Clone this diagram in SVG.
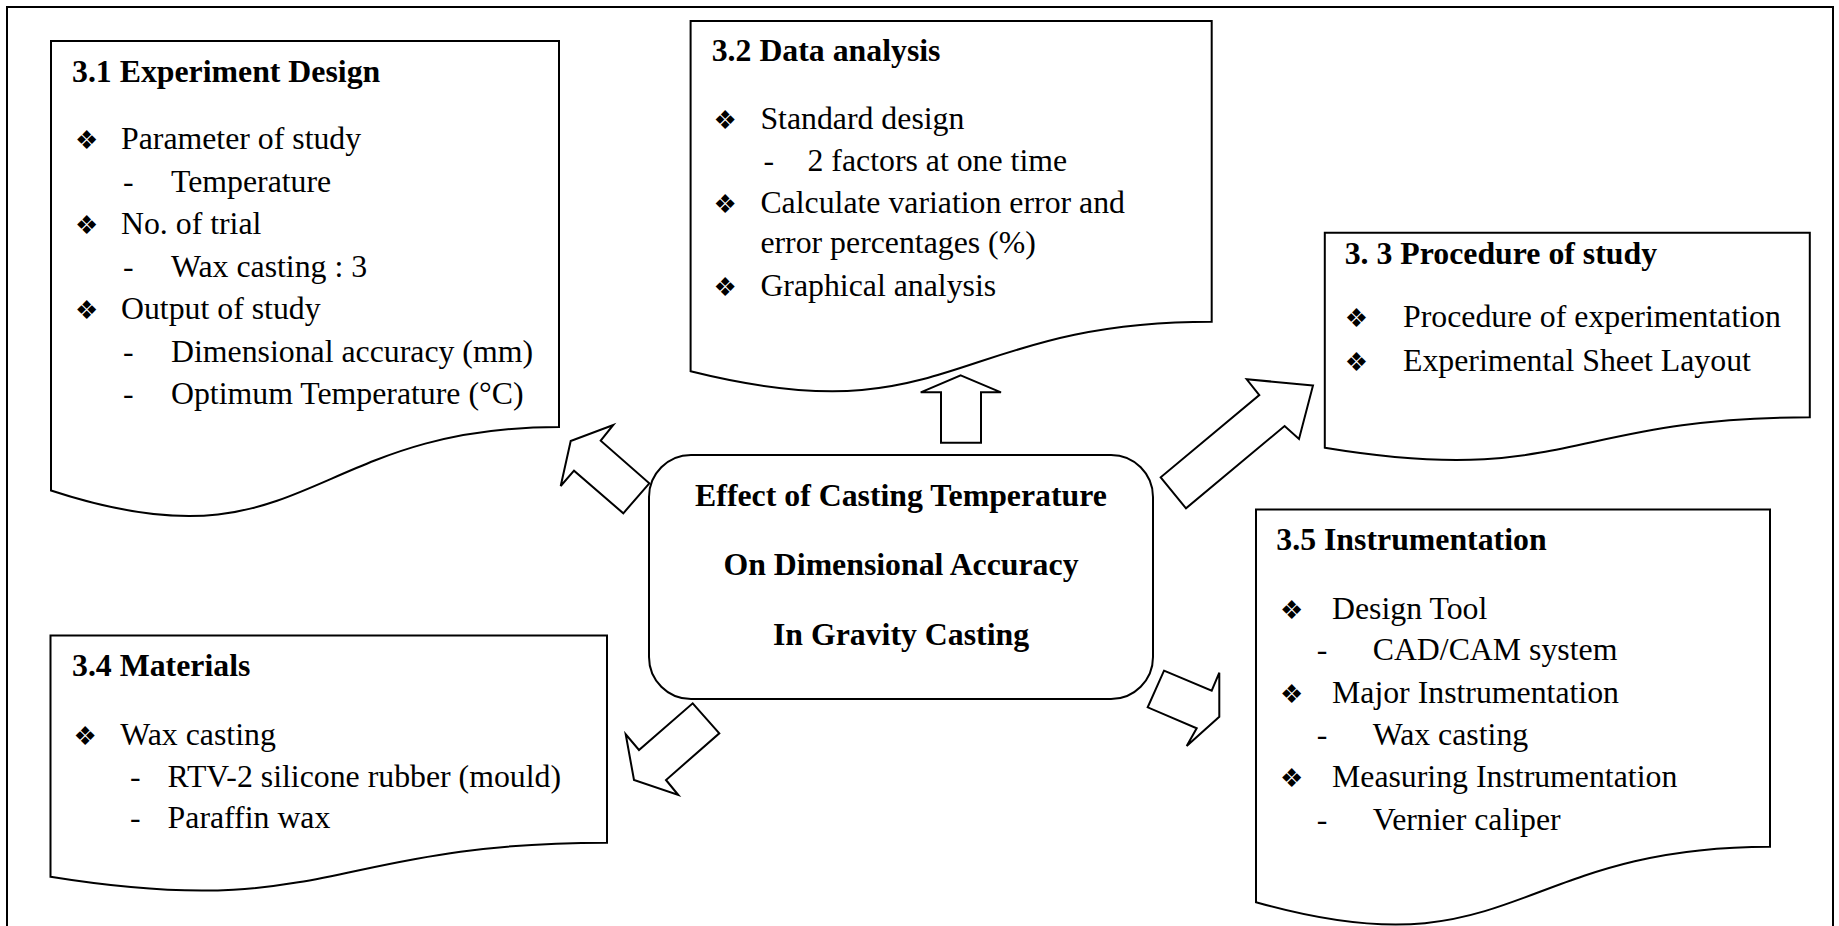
<svg xmlns="http://www.w3.org/2000/svg" width="1839" height="926" viewBox="0 0 1839 926">
<style>
.frame{fill:none;stroke:#000;stroke-width:2}
.box{fill:#fff;stroke:#000;stroke-width:2;stroke-linejoin:miter}
.arr{fill:#fff;stroke:#000;stroke-width:2;stroke-linejoin:miter}
text{font-family:"Liberation Serif","Times New Roman",serif;font-size:31.8px;fill:#000}
.b{font-weight:bold}
.c{text-anchor:middle}
.bul{font-family:"DejaVu Sans",sans-serif;font-size:26px}
</style>
<rect width="1839" height="926" fill="#fff"/>
<path class="frame" d="M7,940 V7 H1833 V940"/>

<g id="n31">
<path class="box" d="M51,41 H559 V427 C305,427 305,574 51,490.5 Z"/>
<text class="b" x="72" y="82">3.1 Experiment Design</text>
<text class="bul" x="75" y="149">❖</text><text x="121" y="149">Parameter of study</text>
<text x="123" y="191.5">-</text><text x="171" y="191.5">Temperature</text>
<text class="bul" x="75" y="234">❖</text><text x="121" y="234">No. of trial</text>
<text x="123" y="276.5">-</text><text x="171" y="276.5">Wax casting : 3</text>
<text class="bul" x="75" y="319">❖</text><text x="121" y="319">Output of study</text>
<text x="123" y="361.5">-</text><text x="171" y="361.5">Dimensional accuracy (mm)</text>
<text x="123" y="404">-</text><text x="171" y="404">Optimum Temperature (°C)</text>
</g>

<g id="n32">
<path class="box" d="M690.6,20.9 H1211.7 V321.8 C951.2,321.8 951.2,436.4 690.6,371.3 Z"/>
<text class="b" x="711.7" y="60.7">3.2 Data analysis</text>
<text class="bul" x="713.6" y="128.6">❖</text><text x="760.4" y="128.6">Standard design</text>
<text x="763.4" y="170.7">-</text><text x="807.5" y="170.7">2 factors at one time</text>
<text class="bul" x="713.6" y="213">❖</text><text x="760.4" y="213">Calculate variation error and</text>
<text x="760.4" y="253">error percentages (%)</text>
<text class="bul" x="713.6" y="296">❖</text><text x="760.4" y="296">Graphical analysis</text>
</g>

<g id="n33">
<path class="box" d="M1324.8,232.7 H1809.8 V417.3 C1567.3,417.3 1567.3,487.6 1324.8,447.7 Z"/>
<text class="b" x="1344.7" y="264.4">3. 3 Procedure of study</text>
<text class="bul" x="1344.7" y="327.3">❖</text><text x="1403" y="327.3">Procedure of experimentation</text>
<text class="bul" x="1344.7" y="371">❖</text><text x="1403" y="371">Experimental Sheet Layout</text>
</g>

<g id="n34">
<path class="box" d="M50.5,635.5 H607 V842.7 C328.8,842.7 328.8,921.7 50.5,876.8 Z"/>
<text class="b" x="72" y="676">3.4 Materials</text>
<text class="bul" x="73.5" y="745">❖</text><text x="120.3" y="745">Wax casting</text>
<text x="130" y="786.7">-</text><text x="167.6" y="786.7">RTV-2 silicone rubber (mould)</text>
<text x="130" y="828.3">-</text><text x="167.6" y="828.3">Paraffin wax</text>
</g>

<g id="n35">
<path class="box" d="M1256,509.4 H1770 V846.7 C1513,846.7 1513,975.2 1256,902.2 Z"/>
<text class="b" x="1276.3" y="550">3.5 Instrumentation</text>
<text class="bul" x="1280" y="618.6">❖</text><text x="1332" y="618.6">Design Tool</text>
<text x="1316.7" y="660.3">-</text><text x="1372.7" y="660.3">CAD/CAM system</text>
<text class="bul" x="1280" y="703">❖</text><text x="1332" y="703">Major Instrumentation</text>
<text x="1316.7" y="745">-</text><text x="1372.7" y="745">Wax casting</text>
<text class="bul" x="1280" y="787">❖</text><text x="1332" y="787">Measuring Instrumentation</text>
<text x="1316.7" y="830">-</text><text x="1372.7" y="830">Vernier caliper</text>
</g>

<g id="center">
<rect class="box" x="649" y="455" width="504" height="244" rx="42" ry="42"/>
<text class="b c" x="901" y="506">Effect of Casting Temperature</text>
<text class="b c" x="901" y="575">On Dimensional Accuracy</text>
<text class="b c" x="901" y="644.5">In Gravity Casting</text>
</g>

<g id="connectors">
<polygon class="arr" points="570.7,441 613.3,425 600.7,440.7 649.3,483.3 623.3,513.3 574,470.7 560.7,486"/>
<polygon class="arr" points="960.7,375.3 1001,392.3 981,392.3 981,442.7 941,442.7 941,392.3 920.7,392.3"/>
<polygon class="arr" points="1313,385.4 1246.7,379.3 1259.3,395 1160.7,477.3 1186,508.3 1284.6,426 1299,439"/>
<polygon class="arr" points="692.7,703.3 719.3,733.3 666,780 678.3,795 634,780 625.7,734.3 639,750"/>
<polygon class="arr" points="1164,670.7 1211.7,690.7 1219.3,672.7 1219.3,716.7 1186.7,746 1196.7,728.3 1147.7,707.3"/>
</g>
</svg>
